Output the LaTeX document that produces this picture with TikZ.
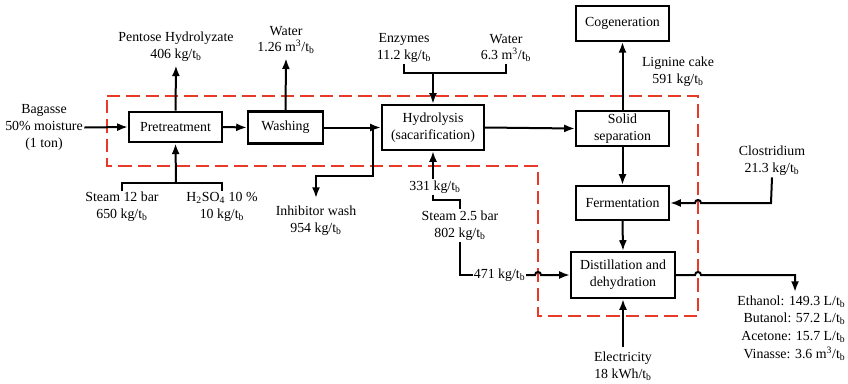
\documentclass[tikz,border=0pt]{standalone}
\usepackage{fontspec}
\setmainfont{Liberation Serif}
\usetikzlibrary{arrows.meta}
\definecolor{boundary}{RGB}{232,58,40}
\newcommand{\tb}{t\textsubscript{b}}
\begin{document}
\begin{tikzpicture}[x=0.75pt,y=-0.75pt,
  txt/.style={font=\rmfamily\fontsize{10.4}{12.6}\selectfont},
  proc/.style={txt, draw, line width=1.7pt, inner sep=0pt, align=center},
  lbl/.style={txt, align=center, inner sep=1pt},
  flow/.style={line width=1.5pt, -{Latex[length=8pt,width=6pt]}},
  feed/.style={line width=1.4pt},
  reddash/.style={draw=boundary, line width=1.2pt, dash pattern=on 10pt off 4.5pt}]
\useasboundingbox (0,0) rectangle (848,383);

% process boundary
\draw[reddash] (107,96) -- (698,96) -- (698,316) -- (538,316) -- (538,166) -- (107,166) -- cycle;

% process units
\node[proc, minimum width=69.75pt, minimum height=23pt] (pre) at (175.5,127) {Pretreatment};
\node[proc, minimum width=56.25pt, minimum height=24pt] (wash) at (285.5,127.5) {Washing};
\node[proc, minimum width=76.5pt, minimum height=33.75pt] (hyd) at (433,127.5) {Hydrolysis\\(sacarification)};
\node[proc, minimum width=69.75pt, minimum height=26pt] (sep) at (622.5,128.5) {Solid\\separation};
\node[proc, minimum width=69.75pt, minimum height=26pt] (cog) at (622.5,23.5) {Cogeneration};
\node[proc, minimum width=69.75pt, minimum height=25.5pt] (ferm) at (622.5,203) {Fermentation};
\node[proc, minimum width=78pt, minimum height=34.5pt] (dist) at (623,275) {Distillation and\\dehydration};

% stream labels
\node[lbl] (bag) at (44,127.5) {Bagasse\\50\% moisture\\(1 ton)};
\node[lbl] (pent) at (176,46.5) {Pentose Hydrolyzate\\406 kg/\tb};
\node[lbl] (wat1) at (286,40) {Water\\1.26 m\textsuperscript{3}/\tb};
\node[lbl] (enz) at (404,48) {Enzymes\\11.2 kg/\tb};
\node[lbl] (wat2) at (506,48) {Water\\6.3 m\textsuperscript{3}/\tb};
\node[lbl] (lig) at (678,72) {Lignine cake\\591 kg/\tb};
\node[lbl] (clo) at (772,161) {Clostridium\\21.3 kg/\tb};
\node[lbl] (st12) at (122,207) {Steam 12 bar\\650 kg/\tb};
\node[lbl] (acid) at (222,207) {H\textsubscript{2}SO\textsubscript{4} 10 \%\\10 kg/\tb};
\node[lbl] (inh) at (316,220.5) {Inhibitor wash\\954 kg/\tb};
\node[lbl] (s331) at (435,187) {331 kg/\tb};
\node[lbl] (st25) at (460,225.5) {Steam 2.5 bar\\802 kg/\tb};
\node[lbl, anchor=west, inner sep=0.5pt] (s471) at (473,275) {471 kg/\tb};
\node[lbl, align=right, anchor=north east, font=\rmfamily\fontsize{10.4}{13.2}\selectfont] (prod) at (847,294)
  {Ethanol: 149.3 L/\tb\\Butanol: 57.2 L/\tb\\Acetone: 15.7 L/\tb\\Vinasse: 3.6 m\textsuperscript{3}/\tb};
\node[lbl] (elec) at (623,366) {Electricity\\18 kWh/\tb};

% junction and bend points
\coordinate (ej) at (433,73);
\coordinate (pj) at (176,183);
\coordinate (wj) at (373,127.5);
\coordinate (sj) at (460,200);
\coordinate (inhtop) at (316,198);
\coordinate (prodtop) at (795,292);
\coordinate (outbend) at (795,275);
\coordinate (clobend) at (771,203);

% main line
\draw[flow] (bag.east) -- (pre.west);
\draw[flow] (pre.east) -- (wash.west);
\draw[flow] (wash.east) -- (hyd.west);
\draw[flow] (hyd.east) -- (sep.west);
\draw[flow] (sep.north) -- (cog.south);
\draw[flow] (sep.south) -- (ferm.north);
\draw[flow] (ferm.south) -- (dist.north);

% side streams
\draw[flow] (pre.north) -- ([yshift=-2pt]pent.south);
\draw[flow] (wash.north) -- ([yshift=-2pt]wat1.south);
\draw[feed] (enz.south) |- (ej) -| (wat2.south);
\draw[flow] (ej) -- (hyd.north);
\draw[feed] (st12.north) |- (pj) -| (acid.north);
\draw[flow] (pj) -- (pre.south);
\draw[flow] (wj) -- (373,176) -| (inhtop);
\draw[flow] (s331.north -| hyd.south) -- (hyd.south);
\draw[feed] (s331.south -| hyd.south) |- (sj) -- (st25.north);
\draw[feed] (st25.south) |- (s471.west);
\draw[flow] (s471.east) -- (535,275)
  .. controls (535,271) and (541,271) .. (541,275) -- (dist.west);
\draw[flow] (clo.south) -- (clobend) -- (701,203)
  .. controls (701,199) and (695,199) .. (695,203) -- (ferm.east);
\draw[flow] (dist.east) -- (695,275) .. controls (695,271) and (701,271) .. (701,275)
  -- (outbend) -- (prodtop);
\draw[flow] ([yshift=2pt]elec.north) -- (dist.south);
\end{tikzpicture}
\end{document}
